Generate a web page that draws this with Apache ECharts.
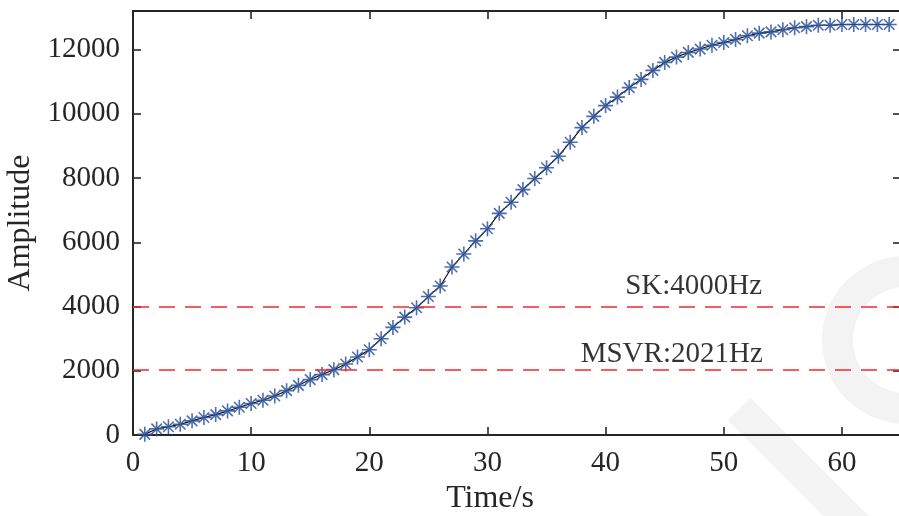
<!DOCTYPE html>
<html>
<head>
<meta charset="utf-8">
<title>Amplitude vs time</title>
<script src="https://cdn.jsdelivr.net/npm/echarts@6/dist/echarts.min.js"></script>
<style>
  html, body { margin: 0; padding: 0; background: #fff; }
  #chart { width: 899px; height: 516px; }
</style>
</head>
<body>
<div id="chart"></div>
<script>
// Sample times (s) and measured amplitude at each sample
const times = [
  1, 2, 3, 4, 5, 6, 7, 8, 9, 10, 11, 12, 13, 14, 15, 16,
  17, 18, 19, 20, 21, 22, 23, 24, 25, 26, 27, 28, 29, 30, 31, 32,
  33, 34, 35, 36, 37, 38, 39, 40, 41, 42, 43, 44, 45, 46, 47, 48,
  49, 50, 51, 52, 53, 54, 55, 56, 57, 58, 59, 60, 61, 62, 63, 64
];
const amplitude = [
  20, 190, 255, 335, 440, 545, 635, 750, 865, 980, 1080, 1215, 1380, 1545, 1725, 1880,
  2035, 2210, 2430, 2655, 2995, 3350, 3670, 3960, 4310, 4640, 5230, 5635, 6045, 6420, 6900, 7245,
  7640, 7985, 8320, 8680, 9115, 9570, 9920, 10255, 10520, 10815, 11070, 11350, 11600, 11765, 11910, 12015,
  12135, 12220, 12315, 12430, 12510, 12550, 12615, 12680, 12715, 12755, 12755, 12780, 12780, 12780, 12780, 12780
];

// Reference thresholds drawn as dashed lines
const thresholdNames = ['SK', 'MSVR'];
const thresholdValues = [4000, 2021];

// Axis ranges and tick spacing
const xRange = [0, 65];
const xStep = 10;
const yRange = [0, 13200];
const yStep = 2000;

// Text anchors for the threshold notes: [time at right end of text, amplitude at baseline]
const noteAnchors = [[53.25, 4330], [53.3, 2200]];

const FONT = '"Liberation Serif", "Times New Roman", serif';
const INK = '#262626';

const pairs = times.map((t, i) => [t, amplitude[i]]);
const notes = noteAnchors.map((p, i) => ({
  value: p,
  label: { formatter: thresholdNames[i] + ':' + thresholdValues[i] + 'Hz' }
}));

const axisLineStyle = { color: INK, width: 2 };
const tickStyle = { show: true, inside: true, length: 8, lineStyle: { color: INK, width: 1.6 } };

function xAxisDef(pos, withLabels) {
  return {
    type: 'value', position: pos, min: xRange[0], max: xRange[1], interval: xStep,
    axisLine: { show: true, onZero: false, lineStyle: axisLineStyle },
    axisTick: tickStyle,
    splitLine: { show: false },
    axisLabel: {
      show: withLabels, fontFamily: FONT, fontSize: 29, color: INK, margin: 14,
      formatter: v => (v % xStep === 0 ? String(v) : '')
    }
  };
}
function yAxisDef(pos, withLabels) {
  const ax = {
    type: 'value', position: pos, min: yRange[0], max: yRange[1], interval: yStep,
    axisLine: { show: true, onZero: false, lineStyle: axisLineStyle },
    axisTick: tickStyle,
    splitLine: { show: false },
    axisLabel: {
      show: withLabels, fontFamily: FONT, fontSize: 29, color: INK, margin: 13,
      formatter: v => (v % yStep === 0 ? String(v) : '')
    }
  };
  if (withLabels) {
    ax.name = 'Amplitude';
    ax.nameLocation = 'middle';
    ax.nameGap = 90;
    ax.nameTextStyle = { fontFamily: FONT, fontSize: 32, color: INK };
  }
  return ax;
}

const chart = echarts.init(document.getElementById('chart'), null, { renderer: 'canvas' });
chart.setOption({
  animation: false,
  backgroundColor: '#ffffff',
  grid: { left: 133, top: 11, width: 768, height: 424, containLabel: false, outerBoundsMode: 'none' },
  xAxis: [xAxisDef('bottom', true), xAxisDef('top', false)],
  yAxis: [yAxisDef('left', true), yAxisDef('right', false)],
  graphic: [
    // faint logo mark in the lower right corner
    { type: 'ring', z: -5, silent: true, shape: { cx: 906, cy: 340, r: 84, r0: 53 }, style: { fill: '#f3f3f3' } },
    { type: 'line', z: -5, silent: true, shape: { x1: 739, y1: 409, x2: 890, y2: 560 }, style: { stroke: '#f3f3f3', lineWidth: 32 } },
    {
      type: 'text', x: 490, y: 499,
      style: { text: 'Time/s', font: '32px ' + FONT, fill: INK, align: 'center', verticalAlign: 'middle' }
    }
  ],
  series: [
    {
      type: 'line',
      data: pairs,
      symbol: 'path://M0,-10L0,10M-10,0L10,0M-7,-7L7,7M-7,7L7,-7',
      symbolSize: 15,
      showAllSymbol: true,
      lineStyle: { color: '#000000', width: 1.1 },
      itemStyle: { color: 'rgba(0,0,0,0)', borderColor: 'rgba(47,85,155,0.85)', borderWidth: 1.6 },
      z: 3,
      markLine: {
        silent: true,
        symbol: ['none', 'none'],
        label: { show: false },
        lineStyle: { color: '#f02a2a', type: [16, 10], width: 1.5 },
        data: thresholdValues.map(v => ({ yAxis: v }))
      }
    },
    {
      type: 'scatter',
      data: notes,
      symbolSize: 0,
      silent: true,
      label: {
        show: true, position: [0, 0], align: 'right', verticalAlign: 'bottom', offset: [0, 5],
        fontFamily: FONT, fontSize: 29, color: '#000000'
      }
    }
  ]
});
</script>
</body>
</html>
